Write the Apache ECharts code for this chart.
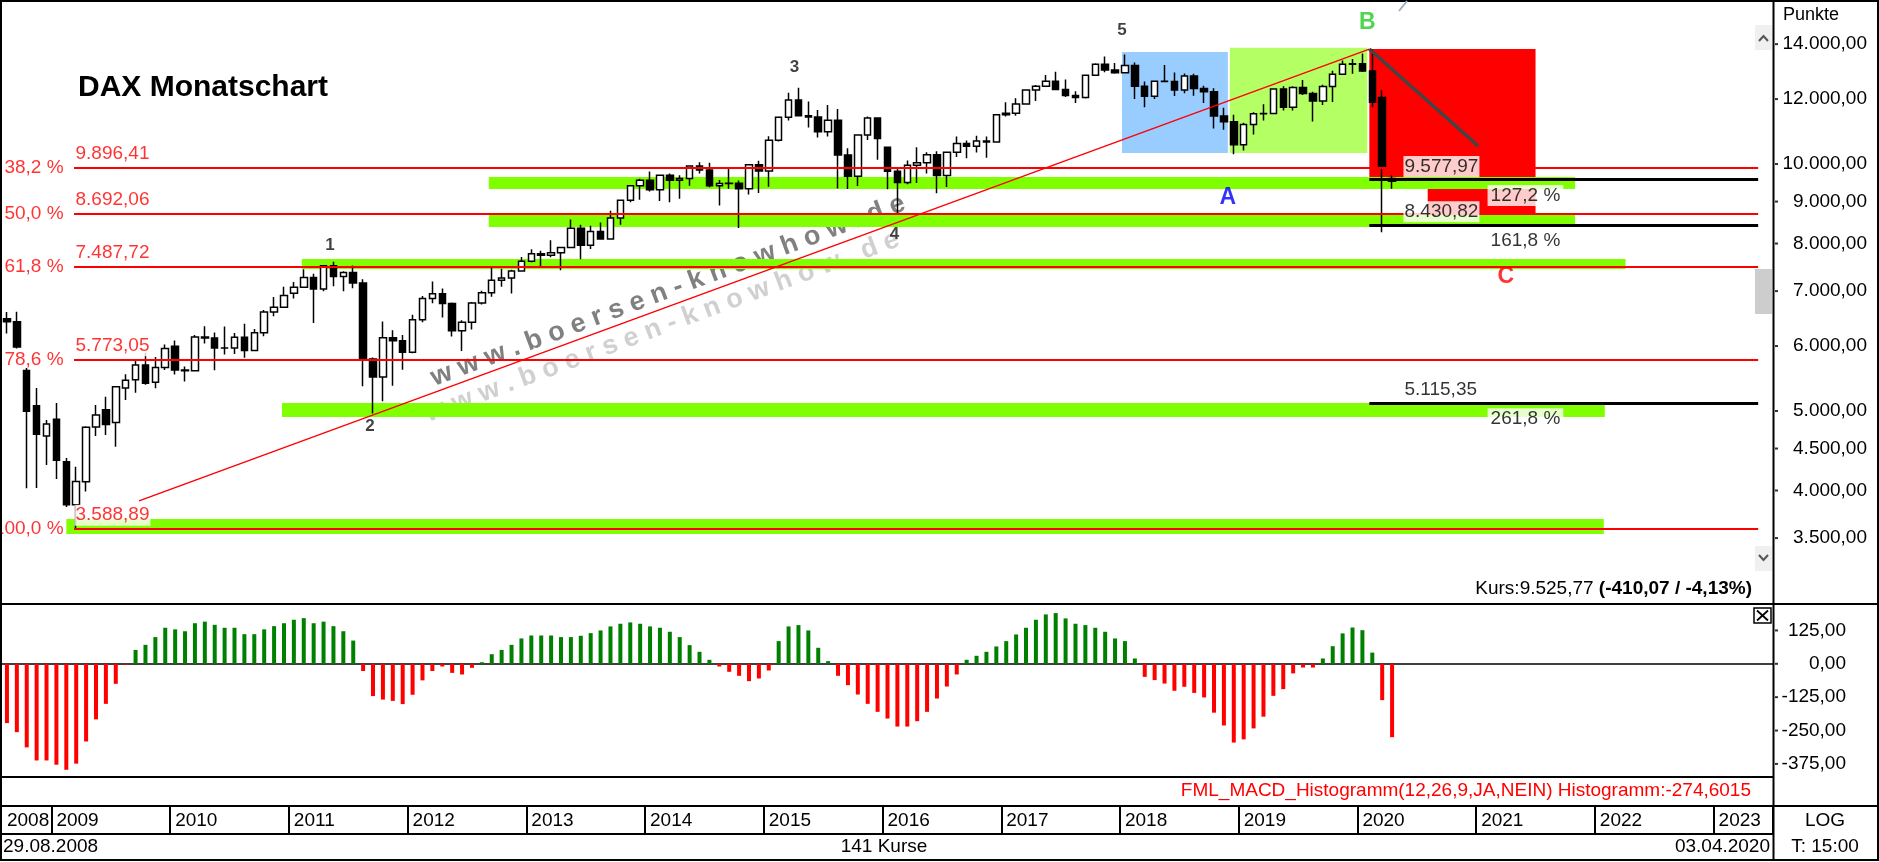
<!DOCTYPE html>
<html><head><meta charset="utf-8">
<script src="https://cdn.jsdelivr.net/npm/echarts@6/dist/echarts.min.js"></script>
<style>html,body{margin:0;padding:0;background:#fff;overflow:hidden}#c{width:1879px;height:862px}</style>
</head><body><div id="c"></div>
<script>
const FONT = '"Liberation Sans", Arial, sans-serif';
// ---- categories: monthly slots Aug 2008 .. Jun 2023 ----
const firstYear = 2008, firstMonth = 8, slotCount = 179;
const categories = [];
for (let i = 0; i < slotCount; i++) {
  const k = firstMonth - 1 + i;
  categories.push((firstYear + Math.floor(k / 12)) + '-' + String(k % 12 + 1).padStart(2, '0'));
}
// ---- monthly candles [open, high, low, close] ----
const candles = [
[6479,6600,6214,6422],[6422,6607,5960,5985],[5600,5640,4024,4996],[5075,5333,4029,4684],[4661,4876,4297,4821],
[4885,5113,4131,4354],[4336,4382,3820,3843],[3843,4277,3589,4101],[4100,4790,3990,4778],[4780,5084,4662,4944],[5016,5204,4675,4815],
[4840,5357,4524,5353],[5332,5544,5157,5449],[5458,5761,5261,5690],[5690,5888,5383,5405],[5420,5818,5330,5648],[5648,6026,5608,5960],
[5998,6094,5540,5610],[5610,5664,5433,5598],[5598,6190,5595,6154],[6154,6342,6041,6136],[6136,6233,5607,5965],[5965,6340,5859,5966],
[5966,6225,5869,6148],[6148,6386,5807,5925],[5925,6294,5912,6229],[6229,6637,6167,6601],[6601,6886,6522,6688],[6688,7087,6680,6914],
[6960,7180,6856,7077],[7077,7441,7063,7273],[7273,7350,6400,7041],[7041,7527,6998,7514],[7514,7600,7095,7294],[7294,7403,6997,7376],
[7376,7523,7057,7159],[7159,7236,5358,5785],[5785,5811,4966,5502],[5502,6430,5138,6141],[6141,6270,5367,6089],[6089,6187,5612,5898],
[5898,6549,5880,6458],[6458,6905,6416,6856],[6856,7194,6764,6947],[6947,7053,6502,6761],[6761,6782,6164,6264],[6264,6450,5915,6416],
[6416,6790,6285,6772],[6772,7008,6740,6970],[6970,7479,6890,7216],[7216,7451,7085,7260],[7260,7435,6951,7405],[7405,7704,7400,7612],
[7612,7872,7590,7776],[7776,7840,7509,7742],[7742,8074,7700,7795],[7795,7929,7420,7914],[7914,8558,7904,8349],[8349,8435,7655,7959],
[7959,8407,7880,8276],[8276,8484,8091,8103],[8103,8770,8087,8594],[8594,9050,8436,9033],[9033,9424,8985,9406],[9406,9594,9047,9552],
[9552,9794,9255,9306],[9306,9710,9016,9692],[9692,9740,8985,9556],[9556,9690,9073,9603],[9603,9949,9411,9943],[9943,10050,9739,9833],
[9833,10033,9367,9407],[9407,9564,8903,9470],[9470,9891,9327,9474],[9474,9550,8355,9327],[9327,9995,9180,9981],[9981,10093,9219,9806],
[9806,10810,9382,10694],[10694,11402,10650,11402],[11402,12219,11300,11966],[11966,12391,11450,11454],[11454,11920,11080,11413],[11413,11635,10776,10945],
[10945,11802,10800,11309],[11309,11670,9338,10259],[10259,10450,9325,9660],[9660,10850,9404,10850],[10850,11430,10700,11382],[11382,11400,10123,10743],
[10485,10486,9315,9798],[9798,9900,8699,9495],[9495,10100,9450,9966],[9966,10486,9484,10039],[10039,10333,9735,10263],[10263,10365,9214,9680],
[9680,10337,9373,10337],[10337,10802,10200,10593],[10593,10685,10165,10511],[10511,10827,10329,10665],[10665,10802,10175,10640],[10640,11482,10619,11481],
[11481,11894,11430,11535],[11535,12031,11449,11834],[11834,12313,11815,12313],[12313,12487,11935,12438],[12438,12842,12423,12615],[12615,12952,12321,12325],
[12325,12676,12066,12118],[12118,12268,11868,12056],[12056,12842,12022,12829],[12829,13268,12800,13230],[13230,13526,12940,13024],[13024,13275,12882,12918],
[12918,13597,12905,13189],[13189,13296,12003,12436],[12436,12605,11726,12097],[12097,12643,12000,12612],[12612,13204,12600,12605],[12605,12931,12104,12306],
[12306,12889,12199,12806],[12806,12886,12116,12364],[12364,12461,11865,12247],[12247,12368,11051,11447],[11447,11709,11009,11257],[11257,11487,10279,10559],
[10559,11230,10387,11173],[11173,11561,10864,11516],[11516,11823,11299,11526],[11526,12350,11520,12344],[12344,12437,11620,11727],[11727,12438,11620,12399],
[12399,12656,12140,12189],[12189,12250,11266,11939],[11939,12494,11800,12428],[12428,12997,11903,12867],[12867,13374,12860,13236],[13236,13425,12887,13249],
[13249,13640,12948,12981],[12981,13795,11724,11890],[12050,12300,8256,9936],[9600,9680,9330,9526]
];
// ---- MACD histogram values ----
const macdHist = [
-222,-256,-313,-362,-362,-378,-397,-374,-291,-208,-150,-75,-3,
52,71,100,135,129,122,152,158,146,135,135,111,111,129,141,152,165,171,152,158,141,122,87,
-27,-121,-134,-139,-151,-116,-62,-27,-10,-34,-40,-15,
6,36,52,71,95,106,106,106,100,100,105,115,125,140,150,155,150,140,135,120,100,70,45,15,
-10,-30,-45,-65,-55,-25,
85,140,145,125,60,10,
-45,-80,-115,-150,-180,-205,-235,-235,-215,-180,-130,-85,-40,
15,30,45,65,85,110,135,165,185,190,170,150,145,135,120,95,85,20,
-49,-61,-74,-101,-86,-109,-126,-183,-231,-295,-283,-242,-198,-120,-95,-36,-14,-14,
20,66,114,136,126,42,
-136,-275
];
// ---- axis ticks ----
const priceTicks = [3500,4000,4500,5000,6000,7000,8000,9000,10000,12000,14000];
const macdTicks = [-375,-250,-125,0,125];
// ---- Fibonacci retracements & targets ----
const fibLevels = [9896.41, 8692.06, 7487.72, 5773.05, 3588.89];
const fibPct = ['38,2 %','50,0 %','61,8 %','78,6 %','100,0 %'];
const targetLevels = [9577.97, 8430.82, 5115.35];
const targetPct = ['127,2 %','161,8 %','261,8 %'];
// ---- zones [fromSlot, toSlot, low, high] ----
const greenBands = [[48.7,158.5,9322,9640],[48.7,158.5,8380,8680],[29.8,163.6,7447,7658],[27.8,161.5,4915,5112],[6.0,161.4,3540,3693]];
const waveZones = [[112.7,123.4,10314,13693],[123.6,137.5,10314,13862],[137.7,154.5,9578,13809],[143.6,154.5,8700,9322]];
const waveZoneColors = ['#99CCFF','#B4FF64','#FF0000','#FF0000'];
// trend line & projection line [slot, value]
const trendLine = [[13.35,3885],[137.7,13809]];
const projLine = [[137.7,13809],[148.7,10518]];
// wave labels [slot, value, text]
const waveLabels = [[32.65,7966,'1'],[36.7,4793,'2'],[79.6,13129,'3'],[89.7,8217,'4'],[112.7,14565,'5']];
const abcLabels = [[123.4,9090,'A'],[137.5,14854,'B'],[151.5,7285,'C']];
const abcColors = ['#0000FF','#22CC22','#FF0000'];

function de(v, d) {
  const s = Math.abs(v).toFixed(d).split('.');
  const i = s[0].replace(/\B(?=(\d{3})+(?!\d))/g, '.');
  return (v < 0 ? '-' : '') + i + (s[1] ? ',' + s[1] : '');
}

const FIB_X0 = 6.78, FIB_X1 = 177.0, PCT_X = 5.77, TGT_X0 = 137.7, TGT_LBL = 141.1, TGT_PCT = 149.6;
const EDGE = slotCount - 0.5;

function rectSeries(rows, colors, z) {
  return {
    type: 'custom', xAxisIndex: 1, yAxisIndex: 0, z, silent: true,
    data: rows.map((r, i) => ({ value: r, itemStyle: { color: colors[i] } })),
    encode: { x: [0, 1], y: [2, 3] },
    renderItem(params, api) {
      const p1 = api.coord([api.value(0), api.value(3)]);
      const p2 = api.coord([api.value(1), api.value(2)]);
      return { type: 'rect', shape: { x: p1[0], y: p1[1], width: p2[0] - p1[0], height: p2[1] - p1[1] },
               style: { fill: api.visual('color') } };
    }
  };
}
function labelSeries(data, label, z) {
  return {
    type: 'scatter', xAxisIndex: 1, yAxisIndex: 0, z: z || 6, silent: true, clip: false,
    symbolSize: 1, itemStyle: { color: 'rgba(0,0,0,0)' },
    data,
    label: Object.assign({ show: true, formatter: p => p.data.value ? p.data.value[2] : p.data[2],
      fontFamily: FONT, fontSize: 19 }, label)
  };
}
function tickSeries(xIdx, yIdx, values) {
  return {
    type: 'scatter', xAxisIndex: xIdx, yAxisIndex: yIdx, z: 7, silent: true, clip: false,
    symbol: 'rect', symbolSize: [3, 2], symbolOffset: [3.5, 0], itemStyle: { color: '#000' },
    data: values.map(v => [EDGE, v])
  };
}

const lineData = [];
fibLevels.forEach(v => lineData.push({ coords: [[FIB_X0, v], [FIB_X1, v]], lineStyle: { color: '#FF0000', width: 1.8, opacity: 1 } }));
lineData.push({ coords: trendLine, lineStyle: { color: '#FF0000', width: 1.4, opacity: 1 } });
targetLevels.forEach(v => lineData.push({ coords: [[TGT_X0, v], [FIB_X1, v]], lineStyle: { color: '#000', width: 3, opacity: 1 } }));
lineData.push({ coords: projLine, lineStyle: { color: '#444', width: 3.5, opacity: 1 } });

const chart = echarts.init(document.getElementById('c'), null, { renderer: 'canvas' });

const Lg = (x1, y1, x2, y2, w, c) => ({ type: 'line', z: 100, silent: true, shape: { x1, y1, x2, y2 }, style: { stroke: c || '#000', lineWidth: w || 2 } });
const Tx = (x, y, text, o) => ({ type: 'text', x, y, z: 100, silent: true,
  style: Object.assign({ text, fill: '#000', font: '19px ' + FONT, textAlign: 'left', align: 'left', textVerticalAlign: 'middle', verticalAlign: 'middle' }, o || {}) });
const wm = 'w w w . b o e r s e n - k n o w h o w . d e';
const rot = 20.5 * Math.PI / 180;

chart.setOption({
  animation: false,
  backgroundColor: '#fff',
  grid: [
    { left: 2, right: 106, top: 3, height: 600 },
    { left: 2, right: 106, top: 604, height: 173 },
    { left: 2, right: 106, top: 806, height: 28 }
  ],
  xAxis: [
    { type: 'category', gridIndex: 0, data: categories, boundaryGap: true, show: false },
    { type: 'value', gridIndex: 0, min: -0.5, max: EDGE, show: false },
    { type: 'category', gridIndex: 1, data: categories, boundaryGap: true,
      axisLine: { show: true, onZero: true, lineStyle: { color: '#000', width: 1.5 } },
      axisTick: { show: false }, axisLabel: { show: false }, splitLine: { show: false } },
    { type: 'category', gridIndex: 2, data: categories, boundaryGap: true, position: 'top',
      axisLine: { show: false }, axisTick: { show: false },
      axisLabel: { show: true, inside: true, margin: 15, align: 'left', verticalAlign: 'middle',
        fontSize: 19, fontFamily: FONT, color: '#000',
        interval: (i, v) => i === 0 || v.endsWith('-01'), formatter: v => v.slice(0, 4) },
      splitLine: { show: true, interval: (i, v) => v.endsWith('-01'), lineStyle: { color: '#000', width: 2 } } },
    { type: 'value', gridIndex: 1, min: -0.5, max: EDGE, show: false }
  ],
  yAxis: [
    { type: 'log', logBase: 10, gridIndex: 0, position: 'right', min: 2917, max: 15714,
      axisLine: { show: false }, splitLine: { show: false }, axisTick: { show: false },
      axisLabel: { show: true, customValues: priceTicks, formatter: v => de(v, 2), align: 'right', margin: 94,
        fontSize: 19, fontFamily: FONT, color: '#000' } },
    { type: 'value', gridIndex: 1, position: 'right', min: -424, max: 224,
      axisLine: { show: false }, splitLine: { show: false }, axisTick: { show: false },
      axisLabel: { show: true, customValues: macdTicks, formatter: v => de(v, 2), align: 'right', margin: 73,
        fontSize: 19, fontFamily: FONT, color: '#000' } },
    { type: 'value', gridIndex: 2, show: false }
  ],
  series: [
    rectSeries(waveZones, waveZoneColors, 1),
    rectSeries(greenBands, greenBands.map(() => '#80FF00'), 1),
    {
      type: 'candlestick', xAxisIndex: 0, yAxisIndex: 0, z: 3, barWidth: 7, silent: true,
      data: candles.map(c => [c[0], c[3], c[2], c[1]]),
      itemStyle: { color: '#FFFFFF', color0: '#000000', borderColor: '#000000', borderColor0: '#000000',
        borderColorDoji: '#000000', borderWidth: 1.5 }
    },
    {
      type: 'lines', coordinateSystem: 'cartesian2d', xAxisIndex: 1, yAxisIndex: 0, z: 4, silent: true,
      polyline: false, lineStyle: { opacity: 1 }, data: lineData
    },
    labelSeries(fibLevels.map((v, i) => [FIB_X0, v, de(v, 2)]),
      { position: 'right', distance: 0, offset: [0, -14], color: '#FF0000', backgroundColor: '#fff', padding: [1, 1] }),
    labelSeries(fibLevels.map((v, i) => [PCT_X, v, fibPct[i]]),
      { position: 'left', distance: 0, color: '#FF0000' }),
    labelSeries(targetLevels.map(v => [TGT_LBL, v, de(v, 2)]),
      { position: 'right', distance: 0, offset: [0, -13], color: '#000', backgroundColor: '#fff', padding: [1, 1] }),
    labelSeries(targetLevels.map((v, i) => [TGT_PCT, v, targetPct[i]]),
      { position: 'right', distance: 0, offset: [0, 16], color: '#000', backgroundColor: '#fff', padding: [1, 3] }),
    labelSeries(waveLabels, { position: 'inside', fontSize: 17, fontWeight: 'bold', color: '#111' }),
    labelSeries(abcLabels.map((r, i) => ({ value: r, label: { color: abcColors[i] } })),
      { position: 'inside', fontSize: 23, fontWeight: 'bold' }),
    tickSeries(1, 0, priceTicks),
    tickSeries(4, 1, macdTicks),
    {
      type: 'bar', xAxisIndex: 2, yAxisIndex: 1, barWidth: 4, silent: true,
      data: macdHist,
      itemStyle: { color: p => p.value >= 0 ? '#008000' : '#FF0000' }
    }
  ],
  graphic: [
    // watermark
    { type: 'text', x: 432, y: 379, rotation: rot, z: 1, silent: true,
      style: { text: wm, fill: '#808080', font: 'bold 27px ' + FONT, textAlign: 'left', align: 'left', textVerticalAlign: 'middle', verticalAlign: 'middle' } },
    { type: 'text', x: 426, y: 415, rotation: rot, z: 1, silent: true,
      style: { text: wm, fill: '#D0D0D0', font: 'bold 27px ' + FONT, textAlign: 'left', align: 'left', textVerticalAlign: 'middle', verticalAlign: 'middle' } },
    // title
    Tx(78, 88, 'DAX Monatschart', { font: 'bold 30px ' + FONT }),
    // frame
    { type: 'rect', z: 100, silent: true, shape: { x: 1, y: 1, width: 1877, height: 859 }, style: { fill: null, stroke: '#000', lineWidth: 2 } },
    Lg(1773.5, 1, 1773.5, 861, 2),
    Lg(0, 604, 1879, 604, 2),
    Lg(0, 777, 1773, 777, 2),
    Lg(0, 806, 1879, 806, 2),
    Lg(0, 834, 1773, 834, 2),
    // scroll widgets
    { type: 'rect', z: 99, silent: true, shape: { x: 1755, y: 25, width: 17, height: 25 }, style: { fill: '#F0F0F0' } },
    { type: 'polyline', z: 100, silent: true, shape: { points: [[1759, 41], [1763.5, 36], [1768, 41]] }, style: { stroke: '#555', lineWidth: 2, fill: null } },
    { type: 'rect', z: 99, silent: true, shape: { x: 1755, y: 269, width: 17, height: 45 }, style: { fill: '#CDCDCD' } },
    { type: 'rect', z: 99, silent: true, shape: { x: 1755, y: 546, width: 17, height: 25 }, style: { fill: '#F0F0F0' } },
    { type: 'polyline', z: 100, silent: true, shape: { points: [[1759, 555], [1763.5, 560], [1768, 555]] }, style: { stroke: '#555', lineWidth: 2, fill: null } },
    // close box
    { type: 'rect', z: 100, silent: true, shape: { x: 1754, y: 608, width: 17, height: 15 }, style: { fill: '#fff', stroke: '#000', lineWidth: 1.5 } },
    Lg(1757, 610.5, 1768, 620.5, 1.8),
    Lg(1768, 610.5, 1757, 620.5, 1.8),
    Lg(1399, 11, 1407, 1, 2, '#9AB0C8'),
    // texts
    Tx(1783, 15, 'Punkte', { font: '18px ' + FONT }),
    { type: 'text', x: 1752, y: 589, z: 100, silent: true,
      style: { text: '{n|Kurs:9.525,77 }{b|(-410,07 / -4,13%)}', textAlign: 'right', align: 'right', textVerticalAlign: 'middle', verticalAlign: 'middle',
        font: '19px ' + FONT, fill: '#000',
        rich: { n: { fontSize: 19, fontFamily: FONT, fill: '#000' }, b: { fontSize: 19, fontFamily: FONT, fontWeight: 'bold', fill: '#000' } } } },
    Tx(1751, 791, 'FML_MACD_Histogramm(12,26,9,JA,NEIN) Histogramm:-274,6015', { fill: '#FF0000', textAlign: 'right', align: 'right' }),
    Tx(3, 847, '29.08.2008'),
    Tx(884, 847, '141 Kurse', { textAlign: 'center', align: 'center' }),
    Tx(1770, 847, '03.04.2020', { textAlign: 'right', align: 'right' }),
    Tx(1825, 821, 'LOG', { textAlign: 'center', align: 'center' }),
    Tx(1825, 847, 'T: 15:00', { textAlign: 'center', align: 'center' })
  ]
});
</script></body></html>
